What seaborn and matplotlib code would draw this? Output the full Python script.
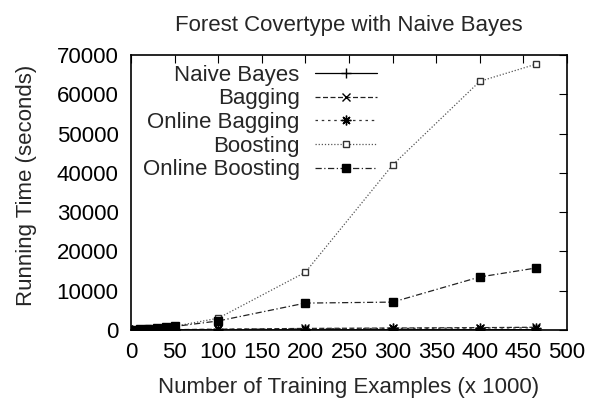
import numpy as np
import matplotlib
matplotlib.use('Agg')
import matplotlib.pyplot as plt
import seaborn as sns

# Training set sizes (x 1000)
examples = [1, 10, 20, 30, 40, 50, 100, 200, 300, 400, 465]

# Running time in seconds
naive_bayes = [1, 2, 4, 6, 8, 10, 20, 40, 60, 80, 95]
bagging = [10, 20, 40, 60, 80, 100, 200, 400, 500, 600, 700]
online_bagging = [8, 15, 30, 45, 60, 75, 150, 300, 400, 500, 550]
boosting = [80, 230, 400, 560, 750, 950, 3000, 14700, 42000, 63300, 67700]
online_boosting = [60, 170, 280, 400, 800, 900, 2300, 6850, 7100, 13500, 15800]

sns.set_theme(style="white")
plt.rcParams['font.family'] = ['Liberation Sans', 'DejaVu Sans']
FS = 16

fig = plt.figure(figsize=(6, 4), dpi=100)
ax = fig.add_axes([131 / 600, 70 / 400, 436 / 600, 275 / 400])

series = [
    ("Naive Bayes", naive_bayes, dict(marker="+", linestyle="-", color="black",
                                      markeredgecolor="black", markersize=7)),
    ("Bagging", bagging, dict(marker="x", linestyle=(0, (4, 2)), color="#222222",
                              markeredgecolor="black", markersize=6)),
    ("Online Bagging", online_bagging, dict(marker=(8, 2, 0), linestyle=(0, (2, 3)), color="#333333",
                                            markeredgecolor="black", markersize=7)),
    ("Boosting", boosting, dict(marker="s", linestyle=(0, (1, 1.5)), color="#555555",
                                markerfacecolor="white", markeredgecolor="#333333", markersize=4.5)),
    ("Online Boosting", online_boosting, dict(marker="s", linestyle=(0, (5, 2, 1, 2)), color="#222222",
                                              markerfacecolor="black", markeredgecolor="black", markersize=5.5)),
]

for label, values, style in series:
    sns.lineplot(x=examples, y=values, ax=ax, label=label, linewidth=0.9,
                 markeredgewidth=1.0, errorbar=None, **style)

ax.set_xlim(0, 500)
ax.set_ylim(0, 70000)
ax.set_xticks(np.arange(0, 501, 50))
ax.set_yticks(np.arange(0, 70001, 10000))

for side in ax.spines.values():
    side.set_color("black")
    side.set_linewidth(1.2)

ax.tick_params(direction="in", length=6, width=0.8, top=True, right=True,
               labelsize=FS, colors="black")
ax.tick_params(axis="x", pad=9)
ax.tick_params(axis="y", pad=9)

ax.set_title("Forest Covertype with Naive Bayes", fontsize=FS, pad=17)
ax.set_xlabel("Number of Training Examples (x 1000)", fontsize=FS)
ax.set_ylabel("Running Time (seconds)", fontsize=FS)
ax.xaxis.set_label_coords(0.5, -0.17)
ax.yaxis.set_label_coords(-0.215, 0.525)

ax.legend(loc="upper right", bbox_to_anchor=(0.565, 0.965), frameon=False,
          markerfirst=False, fontsize=FS, handlelength=2.8, handletextpad=0.7,
          labelspacing=0.12, borderpad=0, borderaxespad=0)

fig.savefig("out.png", dpi=100)
